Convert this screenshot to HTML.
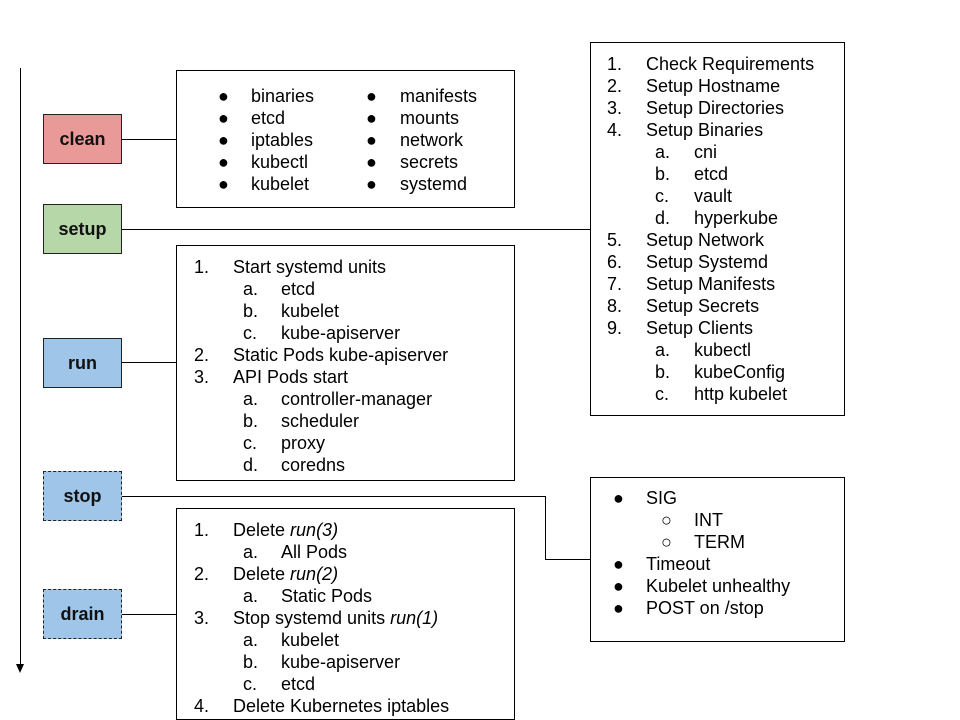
<!DOCTYPE html>
<html><head><meta charset="utf-8"><style>
body{margin:0;width:960px;height:720px;background:#fff;position:relative;overflow:hidden;font-family:"Liberation Sans",Arial,sans-serif;}
.b{position:absolute;border:1px solid #000;box-sizing:border-box;}
.n{position:absolute;box-sizing:border-box;border:1px solid #222;font-weight:bold;font-size:18px;display:flex;align-items:center;justify-content:center;color:#111;}
.h{position:absolute;height:1px;background:#000;}
.v{position:absolute;width:1px;background:#000;}
.t{position:absolute;font-size:18px;line-height:22px;white-space:nowrap;color:#000;}
</style></head><body>
<div class="v" style="left:20px;top:68px;height:600px"></div>
<svg style="position:absolute;left:16px;top:664px" width="9" height="10"><polygon points="0,0 8,0 4,9" fill="#000"/></svg>

<div class="n" style="left:43px;top:114px;width:79px;height:50px;background:#ea9999">clean</div>
<div class="n" style="left:43px;top:204px;width:79px;height:50px;background:#b6d7a8">setup</div>
<div class="n" style="left:43px;top:338px;width:79px;height:50px;background:#9fc5e8">run</div>
<div class="n" style="left:43px;top:471px;width:79px;height:50px;background:#9fc5e8;border:1px dashed #222">stop</div>
<div class="n" style="left:43px;top:589px;width:79px;height:50px;background:#9fc5e8;border:1px dashed #222">drain</div>

<div class="h" style="left:122px;top:139px;width:54px"></div>
<div class="h" style="left:122px;top:229px;width:468px"></div>
<div class="h" style="left:122px;top:362px;width:54px"></div>
<div class="h" style="left:122px;top:496px;width:423px"></div>
<div class="v" style="left:545px;top:496px;height:63px"></div>
<div class="h" style="left:545px;top:559px;width:45px"></div>
<div class="h" style="left:122px;top:614px;width:54px"></div>

<div class="b" style="left:176px;top:70px;width:339px;height:138px"></div>
<div class="b" style="left:590px;top:42px;width:255px;height:374px"></div>
<div class="b" style="left:176px;top:245px;width:339px;height:236px"></div>
<div class="b" style="left:590px;top:477px;width:255px;height:165px"></div>
<div class="b" style="left:176px;top:508px;width:339px;height:212px"></div>

<!-- clean -->
<div class="t" style="left:218px;top:85px">●<br>●<br>●<br>●<br>●</div>
<div class="t" style="left:251px;top:85px">binaries<br>etcd<br>iptables<br>kubectl<br>kubelet</div>
<div class="t" style="left:366px;top:85px">●<br>●<br>●<br>●<br>●</div>
<div class="t" style="left:400px;top:85px">manifests<br>mounts<br>network<br>secrets<br>systemd</div>

<!-- setup -->
<div class="t" style="left:607px;top:53px">1.<br>2.<br>3.<br>4.<br><br><br><br><br>5.<br>6.<br>7.<br>8.<br>9.</div>
<div class="t" style="left:646px;top:53px">Check Requirements<br>Setup Hostname<br>Setup Directories<br>Setup Binaries<br><br><br><br><br>Setup Network<br>Setup Systemd<br>Setup Manifests<br>Setup Secrets<br>Setup Clients</div>
<div class="t" style="left:655px;top:141px">a.<br>b.<br>c.<br>d.</div>
<div class="t" style="left:694px;top:141px">cni<br>etcd<br>vault<br>hyperkube</div>
<div class="t" style="left:655px;top:339px">a.<br>b.<br>c.</div>
<div class="t" style="left:694px;top:339px">kubectl<br>kubeConfig<br>http kubelet</div>

<!-- run -->
<div class="t" style="left:194px;top:256px">1.<br><br><br><br>2.<br>3.</div>
<div class="t" style="left:233px;top:256px">Start systemd units<br><br><br><br>Static Pods kube-apiserver<br>API Pods start</div>
<div class="t" style="left:243px;top:278px">a.<br>b.<br>c.</div>
<div class="t" style="left:281px;top:278px">etcd<br>kubelet<br>kube-apiserver</div>
<div class="t" style="left:243px;top:388px">a.<br>b.<br>c.<br>d.</div>
<div class="t" style="left:281px;top:388px">controller-manager<br>scheduler<br>proxy<br>coredns</div>

<!-- stop -->
<div class="t" style="left:613px;top:487px">●<br><br><br>●<br>●<br>●</div>
<div class="t" style="left:646px;top:487px">SIG<br><br><br>Timeout<br>Kubelet unhealthy<br>POST on /stop</div>
<div class="t" style="left:661px;top:509px">○<br>○</div>
<div class="t" style="left:694px;top:509px">INT<br>TERM</div>

<!-- drain -->
<div class="t" style="left:194px;top:519px">1.<br><br>2.<br><br>3.<br><br><br><br>4.</div>
<div class="t" style="left:233px;top:519px">Delete <i>run(3)</i><br><br>Delete <i>run(2)</i><br><br>Stop systemd units <i>run(1)</i><br><br><br><br>Delete Kubernetes iptables</div>
<div class="t" style="left:243px;top:541px">a.</div>
<div class="t" style="left:281px;top:541px">All Pods</div>
<div class="t" style="left:243px;top:585px">a.</div>
<div class="t" style="left:281px;top:585px">Static Pods</div>
<div class="t" style="left:243px;top:629px">a.<br>b.<br>c.</div>
<div class="t" style="left:281px;top:629px">kubelet<br>kube-apiserver<br>etcd</div>
</body></html>
